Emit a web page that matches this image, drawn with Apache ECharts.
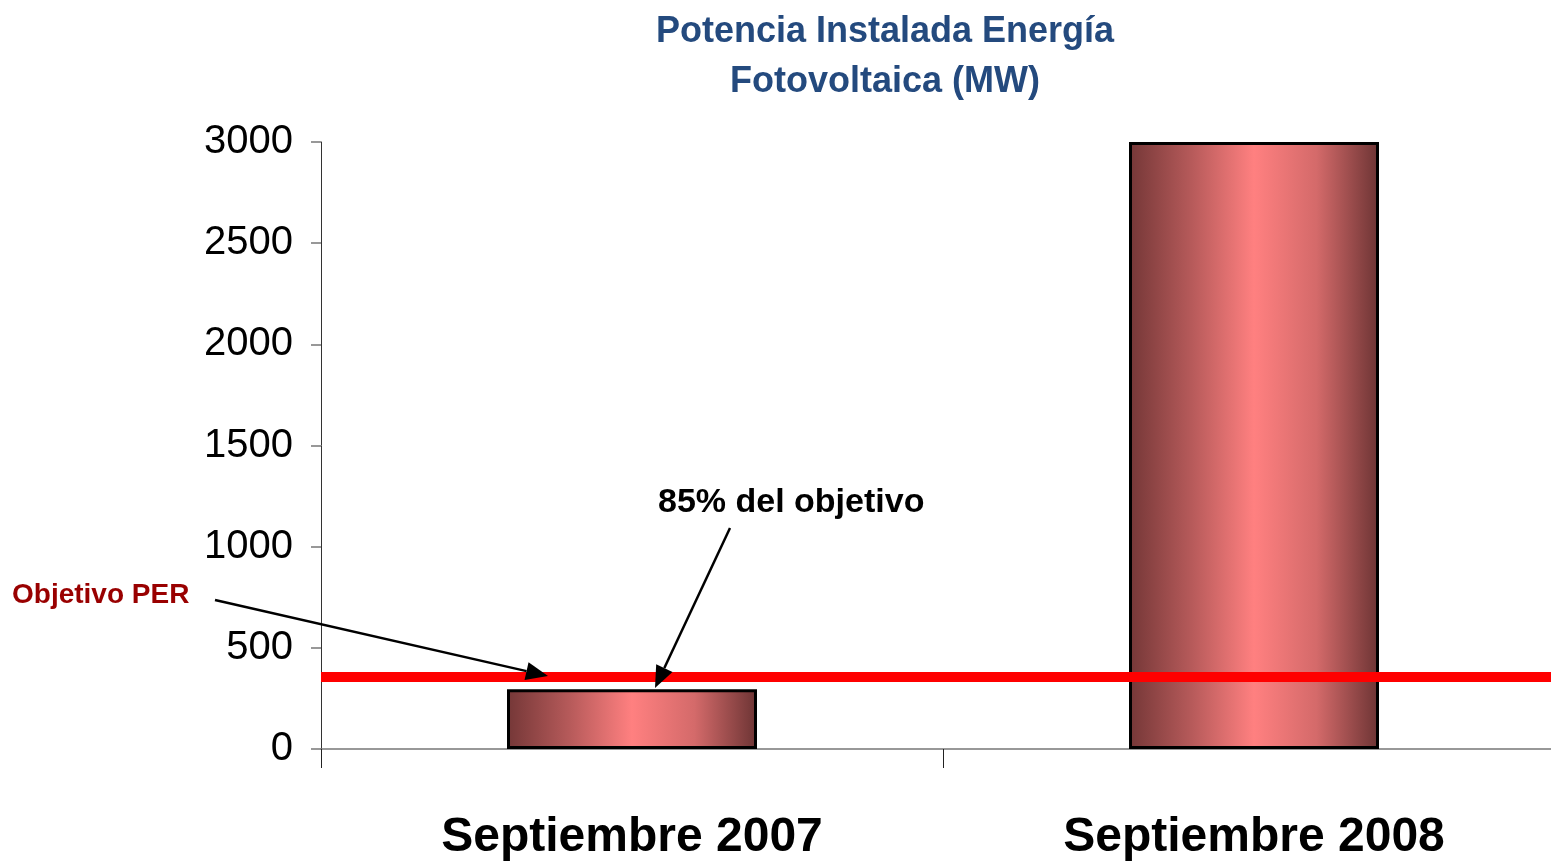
<!DOCTYPE html>
<html>
<head>
<meta charset="utf-8">
<script src="https://cdn.jsdelivr.net/npm/echarts@6/dist/echarts.min.js"></script>
<style>
* { margin: 0; padding: 0; }
#chart-container { width: 1551px; height: 867px; background: #fff; }
</style>
</head>
<body>
<div id="chart-container"></div>
<script>
const categories = ['Septiembre 2007', 'Septiembre 2008']
const potenciaMW = [295, 3000]
const objetivoPER = 355
const yMin = 0
const yMax = 3000
const yStep = 500

const sans = "'Liberation Sans', Arial, sans-serif"

const chartDom = document.getElementById('chart-container')
const myChart = echarts.init(chartDom, null, { renderer: 'canvas' })

// arrow = line + triangle head at (x2, y2)
const arrow = (x1, y1, x2, y2) => {
  const a = Math.atan2(y2 - y1, x2 - x1)
  const len = 22
  const half = 9
  const bx = x2 - len * Math.cos(a)
  const by = y2 - len * Math.sin(a)
  const px = -Math.sin(a) * half
  const py = Math.cos(a) * half
  return [
    {
      type: 'line',
      shape: { x1: x1, y1: y1, x2: bx, y2: by },
      style: { stroke: '#000', lineWidth: 2.5 },
      z: 100
    },
    {
      type: 'polygon',
      shape: { points: [[x2, y2], [bx + px, by + py], [bx - px, by - py]] },
      style: { fill: '#000' },
      z: 100
    }
  ]
}

const barColor = new echarts.graphic.LinearGradient(0, 0, 1, 0, [
  { offset: 0, color: '#743737' },
  { offset: 0.25, color: '#b65a5a' },
  { offset: 0.5, color: '#ff8080' },
  { offset: 0.75, color: '#d46a6a' },
  { offset: 1, color: '#6c3434' }
])

const option = {
  animation: false,
  backgroundColor: '#fff',
  title: {
    text: 'Potencia Instalada Energía\nFotovoltaica (MW)',
    left: 880,
    top: 2,
    textAlign: 'center',
    textStyle: {
      fontFamily: sans,
      fontWeight: 'bold',
      fontSize: 36,
      lineHeight: 50,
      color: '#244a7e'
    }
  },
  grid: {
    left: 321,
    top: 142,
    width: 1244,
    bottom: 118,
    outerBoundsMode: 'none'
  },
  xAxis: {
    type: 'category',
    data: categories,
    axisLine: { lineStyle: { color: '#777', width: 1.5 } },
    axisTick: { show: true, length: 19, lineStyle: { color: '#222', width: 1 } },
    axisLabel: {
      interval: 0,
      hideOverlap: false,
      margin: 65,
      fontFamily: sans,
      fontWeight: 'bold',
      fontSize: 48,
      color: '#000'
    },
    splitLine: { show: false }
  },
  yAxis: {
    type: 'value',
    min: yMin,
    max: yMax,
    interval: yStep,
    axisLine: { show: true, lineStyle: { color: '#333', width: 1 } },
    axisTick: { show: true, length: 10, lineStyle: { color: '#777', width: 1.5 } },
    axisLabel: {
      margin: 28,
      fontFamily: sans,
      fontSize: 40,
      color: '#000',
      formatter: (v) => String(v)
    },
    splitLine: { show: false }
  },
  series: [
    {
      name: 'Potencia',
      type: 'bar',
      data: potenciaMW,
      barWidth: 250,
      itemStyle: {
        color: barColor,
        borderColor: '#000',
        borderWidth: 3
      },
      markLine: {
        silent: true,
        symbol: ['none', 'none'],
        label: { show: false },
        lineStyle: { color: '#ff0000', width: 10, type: 'solid' },
        data: [{ yAxis: objetivoPER }]
      }
    }
  ],
  graphic: [
    {
      type: 'text',
      left: 12,
      top: 581,
      style: {
        text: 'Objetivo PER',
        fontFamily: sans,
        fontWeight: 'bold',
        fontSize: 28,
        fill: '#990000'
      }
    },
    {
      type: 'text',
      left: 658,
      top: 486,
      style: {
        text: '85% del objetivo',
        fontFamily: sans,
        fontWeight: 'bold',
        fontSize: 34,
        fill: '#000'
      }
    },
    ...arrow(215, 600, 548, 676),
    ...arrow(730, 528, 655, 688)
  ]
}

myChart.setOption(option)
</script>
</body>
</html>
